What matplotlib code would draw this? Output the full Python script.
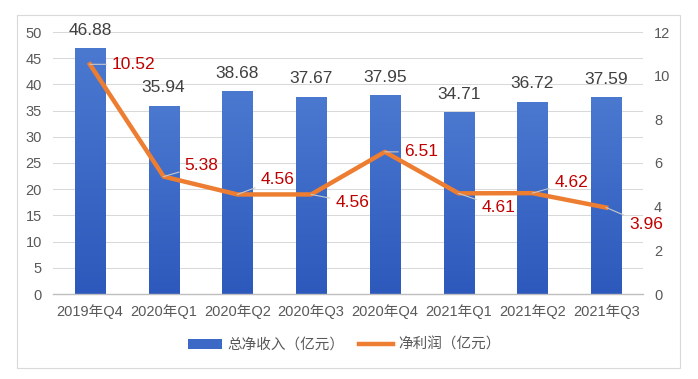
import numpy as np
import matplotlib.pyplot as plt
from matplotlib.patches import Rectangle
from matplotlib.lines import Line2D
from matplotlib.patches import Patch
from matplotlib.colors import LinearSegmentedColormap

plt.rcParams['font.family'] = ['Liberation Sans', 'Noto Sans CJK SC', 'DejaVu Sans']
plt.rcParams['axes.unicode_minus'] = False

# 数据
quarters = ['2019年Q4', '2020年Q1', '2020年Q2', '2020年Q3',
            '2020年Q4', '2021年Q1', '2021年Q2', '2021年Q3']
revenue = [46.88, 35.94, 38.68, 37.67, 37.95, 34.71, 36.72, 37.59]
profit = [10.52, 5.38, 4.56, 4.56, 6.51, 4.61, 4.62, 3.96]
# 标签偏移（像素）
profit_offsets = [(44, 0), (38, 11), (40, 15), (41, -8),
                  (36, 0), (40, -14), (39, 11), (40, -17)]

tick_color = '#595959'
bar_color = '#3C68C6'
line_color = '#ED7D31'
label_red = '#C00000'

fig = plt.figure(figsize=(6.98, 3.79), dpi=100)
fig.patch.set_facecolor('white')

# 外框
fig.patches.append(Rectangle((17 / 698, 1 - 368 / 379), 663 / 698, 353 / 379,
                             transform=fig.transFigure, fill=False,
                             edgecolor='#D9D9D9', linewidth=0.8))

ax = fig.add_axes([53 / 698, 1 - 294 / 379, 590 / 698, 262 / 379])
x = list(range(len(quarters)))
bars = ax.bar(x, revenue, width=0.41, color=bar_color, zorder=2)
ax.set_xlim(-0.5, len(quarters) - 0.5)
ax.set_ylim(0, 50)

# 柱子渐变色
cmap = LinearSegmentedColormap.from_list('bar', ['#2D59BC', '#4B79D0'])
grad = np.linspace(0, 1, 256).reshape(-1, 1)
for b in bars:
    x0, y0 = b.get_x(), b.get_y()
    im = ax.imshow(grad, cmap=cmap, origin='lower', aspect='auto',
                   extent=(x0, x0 + b.get_width(), y0, y0 + b.get_height()), zorder=2)
    im.set_clip_path(b)
ax.set_xlim(-0.5, len(quarters) - 0.5)
ax.set_ylim(0, 50)

ax.set_yticks(range(0, 51, 5))
ax.set_xticks(x)
ax.set_xticklabels(quarters)
ax.tick_params(axis='both', length=0, labelsize=10.5, labelcolor=tick_color)
ax.tick_params(axis='y', pad=8)
ax.tick_params(axis='x', pad=7)
ax.grid(axis='y', color='#D9D9D9', linewidth=0.75, zorder=0)
ax.set_axisbelow(True)
for s in ['top', 'left', 'right']:
    ax.spines[s].set_visible(False)
ax.spines['bottom'].set_color('#BFBFBF')
ax.spines['bottom'].set_linewidth(1.0)

for i, v in enumerate(revenue):
    ax.annotate(f'{v:.2f}', (i, v), xytext=(0, 18), textcoords='offset pixels',
                ha='center', va='center', fontsize=12.5, color='#404040')

ax2 = ax.twinx()
ax2.set_ylim(0, 12)
ax2.set_yticks(range(0, 13, 2))
ax2.tick_params(axis='y', length=0, labelsize=10.5, labelcolor=tick_color, pad=8)
for s in ['top', 'left', 'right', 'bottom']:
    ax2.spines[s].set_visible(False)
ax2.plot(x, profit, color=line_color, linewidth=3.2, solid_joinstyle='round', zorder=3)

for i, v in enumerate(profit):
    dx, dy = profit_offsets[i]
    ax2.annotate(f'{v:.2f}', (i, v), xytext=(dx, dy), textcoords='offset pixels',
                 ha='center', va='center', fontsize=12.5, color=label_red,
                 arrowprops=dict(arrowstyle='-', color='#C9C9C9', lw=0.8,
                                 shrinkA=2, shrinkB=0))

handles = [Patch(facecolor=bar_color, edgecolor='none'),
           Line2D([0], [0], color=line_color, linewidth=3.2)]
fig.legend(handles, ['总净收入（亿元）', '净利润（亿元）'], loc='center',
           bbox_to_anchor=(0.494, 1 - 345 / 379), ncol=2, frameon=False,
           fontsize=10.5, labelcolor=tick_color, handlelength=2.3,
           handleheight=0.6, columnspacing=1.0, handletextpad=0.4)

fig.savefig('out.png', dpi=100)
